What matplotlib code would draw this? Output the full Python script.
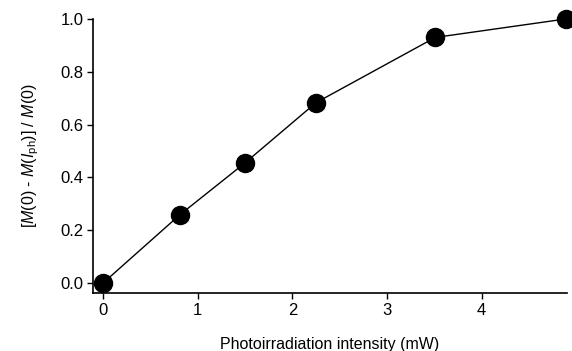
import numpy as np
import matplotlib.pyplot as plt

plt.rcParams["font.family"] = ["Liberation Sans", "DejaVu Sans"]
plt.rcParams["mathtext.fontset"] = "custom"
plt.rcParams["mathtext.rm"] = "Liberation Sans"
plt.rcParams["mathtext.it"] = "Liberation Sans:italic"

intensity = [0.0, 0.81, 1.50, 2.25, 3.51, 4.89]
response = [0.0, 0.258, 0.455, 0.683, 0.93, 1.0]
xticks = [0, 1, 2, 3, 4]
yticks = [0.0, 0.2, 0.4, 0.6, 0.8, 1.0]

fig = plt.figure(figsize=(5.72, 3.51), dpi=100)
ax = fig.add_axes([0.1626, 0.165, 0.991 - 0.1626, 0.946 - 0.165])

ax.plot(intensity, response, color="black", lw=1.0, marker="o",
        markersize=13, markerfacecolor="black", clip_on=False, zorder=3)

ax.set_xlim(-0.106, 4.9)
ax.set_ylim(-0.038, 1.0)
ax.set_xticks(xticks)
ax.set_yticks(yticks)
ax.set_yticklabels([f"{v:.1f}" for v in yticks])

for s in ["top", "right"]:
    ax.spines[s].set_visible(False)
for s in ["left", "bottom"]:
    ax.spines[s].set_linewidth(1.2)
ax.tick_params(direction="out", length=4, width=1.0, labelsize=12, pad=3)

ax.set_xlabel("Photoirradiation intensity (mW)", fontsize=11.5, labelpad=14)
ax.set_ylabel("[$M$(0) - $M$($I$$_{\\mathrm{ph}}$)] / $M$(0)",
              fontsize=11.5, labelpad=14)

fig.savefig("out.png", dpi=100)
